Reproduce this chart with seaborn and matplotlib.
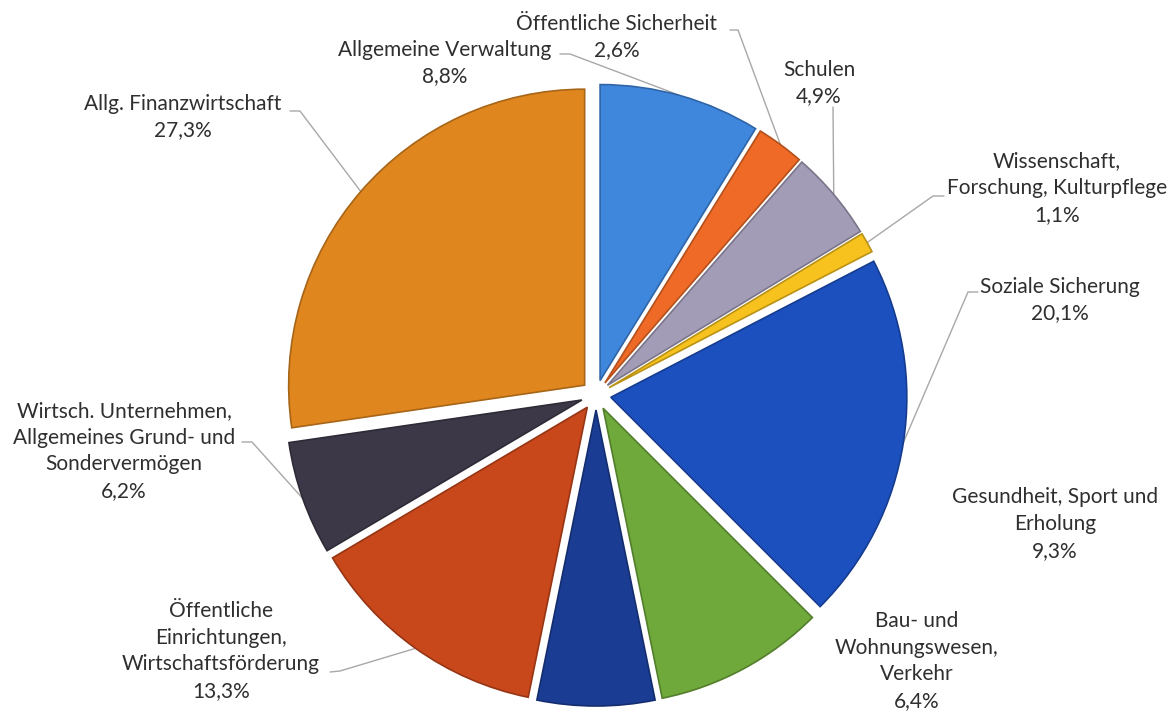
import matplotlib
matplotlib.use("Agg")
import matplotlib.pyplot as plt
import seaborn as sns
import numpy as np
from matplotlib.colors import to_rgb

# Budget shares by area (percent), clockwise from 12 o'clock
categories = [
    "Allgemeine Verwaltung",
    "Öffentliche Sicherheit",
    "Schulen",
    "Wissenschaft,\nForschung, Kulturpflege",
    "Soziale Sicherung",
    "Gesundheit, Sport und\nErholung",
    "Bau- und\nWohnungswesen,\nVerkehr",
    "Öffentliche\nEinrichtungen,\nWirtschaftsförderung",
    "Wirtsch. Unternehmen,\nAllgemeines Grund- und\nSondervermögen",
    "Allg. Finanzwirtschaft",
]
shares = [8.8, 2.6, 4.9, 1.1, 20.1, 9.3, 6.4, 13.3, 6.2, 27.3]
slice_colors = [
    "#3f86dd", "#ee6a26", "#a29cb6", "#f7c21e", "#1c50bf",
    "#6fa83b", "#1b3c93", "#c8471b", "#3d3848", "#df861f",
]

# Canvas in pixels (y measured from the top)
W, H = 1174, 714
pie_center = (596, 395)
pie_radius = 296
gap = 15  # outward shift of every slice, in pixels

# Label block centres and leader-line knees / tails (None = no leader)
label_pos = [
    (445, 63), (617, 37), (819, 83), (1057, 188), (1060, 300),
    (1055, 524), (917, 661), (221, 651), (124, 451), (183, 117),
]
leader_knee = [
    (570, 54), (738, 30), (833, 107), (933, 196), (968, 292),
    None, None, (340, 671), (252, 442), (300, 111),
]
leader_tail = [
    (560, 54), (730, 30), None, (944, 196), (978, 292),
    None, None, (330, 672), (242, 442), (290, 111),
]

sns.set_theme(style="white")
plt.rcParams["font.family"] = ["Lato", "DejaVu Sans"]


def darken(c, f=0.75):
    r, g, b = to_rgb(c)
    return (r * f, g * f, b * f)


def flip(p):
    return (p[0], H - p[1])


fig = plt.figure(figsize=(W / 100, H / 100), dpi=100)
ax = fig.add_axes([0, 0, 1, 1])

palette = sns.color_palette(slice_colors)
wedges, _ = ax.pie(
    shares,
    colors=palette,
    startangle=90,
    counterclock=False,
    explode=[gap] * len(shares),
    radius=pie_radius,
    center=flip(pie_center),
    wedgeprops=dict(linewidth=1.2),
)
for w, c in zip(wedges, slice_colors):
    w.set_edgecolor(darken(c))

ax.set_xlim(0, W)
ax.set_ylim(0, H)
ax.set_aspect("equal")
ax.axis("off")

text_color = "#2f2f2f"
for w, cat, val, pos, knee, tail in zip(
    wedges, categories, shares, label_pos, leader_knee, leader_tail
):
    pct = f"{val:.1f}".replace(".", ",") + "%"
    x, y = flip(pos)
    ax.text(x, y, f"{cat}\n{pct}", ha="center", va="center",
            fontsize=15, linespacing=1.42, color=text_color)
    if knee is None:
        continue
    mid = np.deg2rad((w.theta1 + w.theta2) / 2)
    cx, cy = w.center
    ax_pt = (cx + w.r * np.cos(mid), cy + w.r * np.sin(mid))
    pts = []
    if tail is not None:
        pts.append(flip(tail))
    pts.append(flip(knee))
    pts.append(ax_pt)
    xs, ys = zip(*pts)
    ax.plot(xs, ys, color="#a8a8a8", lw=1.0, zorder=0.5)

fig.savefig("out.png", dpi=100, facecolor="white")
